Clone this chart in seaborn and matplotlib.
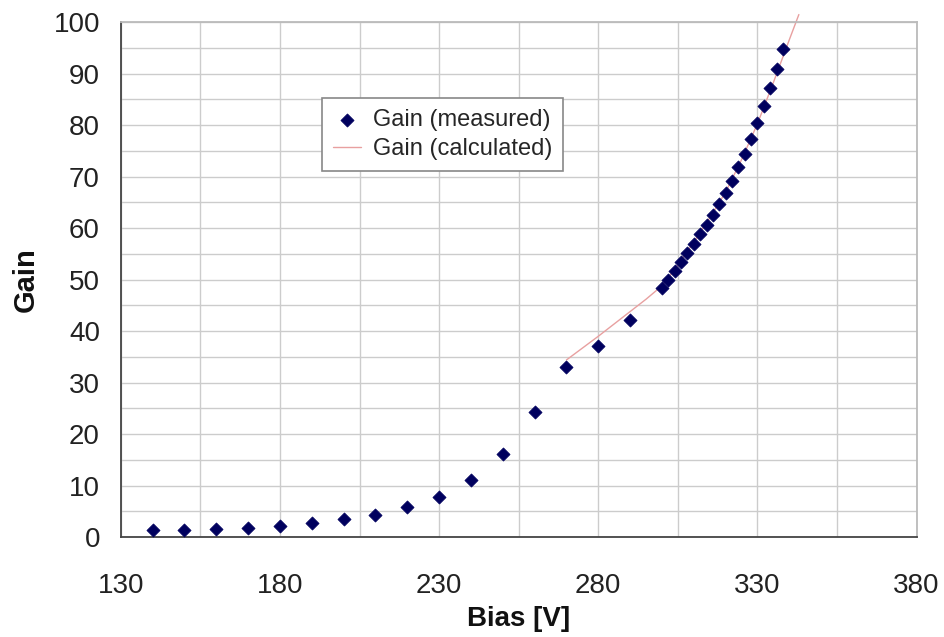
import numpy as np
import pandas as pd
import seaborn as sns
import matplotlib
matplotlib.use("Agg")
import matplotlib.pyplot as plt

# measured gain vs bias
bias_meas = [140, 150, 160, 170, 180, 190, 200, 210, 220, 230, 240, 250, 260, 270, 280, 290,
             300, 302, 304, 306, 308, 310, 312, 314, 316, 318, 320, 322, 324, 326, 328, 330,
             332, 334, 336, 338]
gain_meas = [1.3, 1.4, 1.6, 1.8, 2.1, 2.7, 3.4, 4.3, 5.8, 7.8, 11.0, 16.1, 24.2, 33.1, 37.2, 42.1,
             48.4, 50.0, 51.7, 53.4, 55.2, 57.0, 58.8, 60.7, 62.6, 64.6, 66.8, 69.2, 71.8, 74.5,
             77.4, 80.5, 83.8, 87.3, 91.0, 94.9]

# calculated gain curve
bias_calc = [270, 275, 280, 285, 290, 295, 300, 305, 310, 315, 320, 325, 330, 335, 340, 343]
gain_calc = [34.4, 36.7, 39.0, 41.4, 43.8, 46.2, 48.8, 52.8, 57.3, 62.0, 67.0, 73.3, 80.3, 88.3, 96.6, 101.5]

x_ticks = [130, 180, 230, 280, 330, 380]
y_ticks = [0, 10, 20, 30, 40, 50, 60, 70, 80, 90, 100]

df_meas = pd.DataFrame({"bias": bias_meas, "gain": gain_meas})
df_calc = pd.DataFrame({"bias": bias_calc, "gain": gain_calc})

sns.set_style("white")
plt.rcParams['font.family'] = ['Liberation Sans', 'DejaVu Sans']

fig = plt.figure(figsize=(9.44, 6.37), dpi=100)
ax = fig.add_axes([0.128, 0.157, 0.843, 0.808])

sns.lineplot(data=df_calc, x="bias", y="gain", ax=ax, color="#e8a0a0", linewidth=1.0,
             label="Gain (calculated)", zorder=2)
ax.lines[-1].set_clip_on(False)
sns.scatterplot(data=df_meas, x="bias", y="gain", ax=ax, marker="D", s=45, color="#00005e",
                edgecolor="#00005e", linewidth=0.5, label="Gain (measured)", zorder=3)

ax.set_xlim(130, 380)
ax.set_ylim(0, 100)
ax.set_xticks(x_ticks)
ax.set_xticks(np.arange(155, 380, 50), minor=True)
ax.set_yticks(y_ticks)
ax.set_yticks(np.arange(5, 100, 10), minor=True)
ax.grid(True, which="both", color="#cccccc", linewidth=1.0)
ax.set_axisbelow(True)

ax.tick_params(axis="both", which="major", labelsize=20, length=9, width=1.2,
               color="#444444", labelcolor="#222222", direction="out")
ax.tick_params(axis="x", which="major", pad=17)
ax.tick_params(axis="y", which="major", pad=6)
ax.tick_params(axis="both", which="minor", length=0)

for side in ["left", "bottom"]:
    ax.spines[side].set_color("#444444")
    ax.spines[side].set_linewidth(1.3)
for side in ["top", "right"]:
    ax.spines[side].set_color("#bbbbbb")
    ax.spines[side].set_linewidth(1.3)

ax.set_xlabel("Bias [V]", fontsize=20, fontweight="bold", labelpad=5, color="#111111")
ax.set_ylabel("Gain", fontsize=21, fontweight="bold", labelpad=10, color="#111111")

handles, labels = ax.get_legend_handles_labels()
order = [labels.index("Gain (measured)"), labels.index("Gain (calculated)")]
leg = ax.legend([handles[i] for i in order], [labels[i] for i in order],
                loc="upper left", bbox_to_anchor=(0.253, 0.852), fontsize=17,
                frameon=True, fancybox=False, edgecolor="#888888", framealpha=1,
                handlelength=1.2, handletextpad=0.5, borderpad=0.45, labelspacing=0.3,
                borderaxespad=0)
leg.get_frame().set_linewidth(1.2)

fig.savefig("out.png", dpi=100)
